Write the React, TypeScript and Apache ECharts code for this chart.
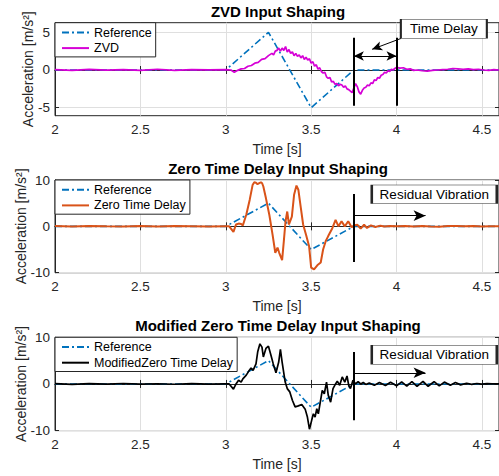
import React, { useEffect, useRef } from "react";
import * as echarts from "echarts";

// ---------- data ----------
const xTicks = [2, 2.5, 3, 3.5, 4, 4.5];
const topYTicks = [-5, 0, 5];
const lowYTicks = [-10, 0, 10];

const titles = [
  "ZVD Input Shaping",
  "Zero Time Delay Input Shaping",
  "Modified Zero Time Delay Input Shaping",
];
const seriesNames = ["ZVD", "Zero Time Delay", "ModifiedZero Time Delay"];

const refT = [2, 3, 3.25, 3.5, 3.75, 4.6];
const refV = [0, 0, 5, -5, 0, 0];

const zvdT = [2.0, 2.1, 2.2, 2.3, 2.4, 2.5, 2.6, 2.7, 2.8, 2.9, 3.0,
  3.03, 3.05, 3.07, 3.09, 3.11, 3.13, 3.15, 3.17, 3.19, 3.21, 3.23, 3.25, 3.27,
  3.28, 3.29, 3.30, 3.31, 3.32, 3.33, 3.34, 3.35, 3.36, 3.37, 3.38, 3.39, 3.40,
  3.41, 3.42, 3.43, 3.44, 3.45, 3.46, 3.47, 3.48, 3.49, 3.50, 3.51, 3.52, 3.53,
  3.54, 3.55, 3.56, 3.57, 3.58, 3.59, 3.60, 3.61, 3.62, 3.63, 3.64, 3.65, 3.66,
  3.67, 3.68, 3.69, 3.70, 3.71, 3.72, 3.73, 3.74, 3.75, 3.76, 3.77, 3.78, 3.79,
  3.80, 3.81, 3.82, 3.83, 3.84, 3.85, 3.86, 3.87, 3.88, 3.89, 3.90, 3.91, 3.92,
  3.93, 3.94, 3.95, 3.96, 3.97, 3.98, 3.99, 4.00,
  4.02, 4.04, 4.06, 4.08, 4.10, 4.12,
  4.15, 4.18, 4.21, 4.24, 4.27, 4.30, 4.33, 4.36, 4.39, 4.42, 4.45, 4.48, 4.51,
  4.54, 4.57, 4.60];
const zvdV = [0.05, -0.05, 0.08, -0.03, 0.06, -0.04, 0.1, -0.05, 0.05, 0.02, 0.05,
  0.0, -0.3, -0.05, 0.15, 0.2, 0.5, 0.6, 0.9, 1.0, 1.4, 1.5, 1.9, 2.2,
  2.0, 2.5, 2.6, 2.9, 2.5, 2.9, 2.6, 3.1, 2.4, 2.7, 2.2, 2.4, 1.9,
  2.2, 1.8, 2.0, 1.6, 1.9, 1.4, 1.7, 1.3, 1.5, 0.9, 1.1, 0.5, 0.7,
  0.1, 0.3, -0.2, -0.4, -0.3, -0.9, -1.1, -1.0, -1.6, -1.5, -1.9, -1.8, -2.1,
  -1.9, -2.0, -2.3, -2.1, -2.5, -2.6, -2.8, -3.0, -2.4, -1.8, -2.2, -2.9, -3.2,
  -2.7, -2.4, -2.3, -2.0, -2.1, -1.7, -1.8, -1.3, -1.4, -1.0, -1.1, -0.7, -0.6,
  -0.3, -0.4, -0.1, -0.2, 0.1, 0.0, 0.2, 0.35,
  0.25, 0.3, 0.1, 0.15, -0.05, 0.0,
  -0.1, -0.15, -0.05, 0.0, 0.05, 0.1, 0.2, 0.15, 0.1, 0.15, 0.05, 0.1, 0.0,
  -0.05, 0.05, 0.0];

const ztdT = [2.0, 2.1, 2.2, 2.3, 2.4, 2.5, 2.6, 2.7, 2.8, 2.9, 3.0,
  3.02, 3.045, 3.06, 3.075, 3.09, 3.10, 3.12, 3.14, 3.157, 3.167, 3.177, 3.186,
  3.196, 3.206, 3.213, 3.22, 3.235, 3.255, 3.274, 3.29, 3.303, 3.313, 3.33, 3.34,
  3.35, 3.36, 3.37, 3.387, 3.40, 3.414, 3.425, 3.44, 3.453, 3.47, 3.488, 3.50,
  3.517, 3.536, 3.556, 3.57, 3.585, 3.60, 3.624, 3.643, 3.66, 3.678, 3.697,
  3.717, 3.737, 3.75,
  3.77, 3.79, 3.81, 3.827, 3.85, 3.876, 3.905, 3.93, 3.96, 4.0,
  4.05, 4.1, 4.15, 4.2, 4.25, 4.3, 4.35, 4.4, 4.45, 4.5, 4.55, 4.6];
const ztdV = [0.05, -0.05, 0.1, 0, -0.05, 0.08, -0.03, 0.05, 0, -0.05, 0,
  0, -1.2, 0.4, 0.6, 0.5, 0.2, 2.5, 5.7, 8.9, 9.5, 9.4, 9.1,
  9.3, 9.5, 9.3, 8.6, 6.1, 2.5, -1.8, -5.7, -4.6, -5.7, -7.3, -3.2,
  1.1, 3.2, 0.4, 2.1, 6.8, 8.8, 7.9, 3.9, 0.4, -1.8, -4.3, -8.9,
  -9.3, -8.4, -7.8, -5.0, -3.2, -2.1, -0.4, 1.4, 0.0, 1.1, 0.0,
  1.1, -0.2, 0.2,
  0.35, -0.5, 0.35, -0.35, 0.2, -0.15, 0.15, -0.05, 0.1, 0.0,
  0.05, -0.05, 0.1, -0.05, -0.1, 0.05, 0.1, 0.0, 0.05, -0.05, 0.0, 0.0];

const mztdT = [2.0, 2.1, 2.2, 2.3, 2.4, 2.5, 2.6, 2.7, 2.8, 2.9, 3.0,
  3.02, 3.045, 3.06, 3.075, 3.09, 3.10, 3.12, 3.134, 3.148, 3.16, 3.177, 3.187,
  3.20, 3.212, 3.22, 3.235, 3.25, 3.265, 3.278, 3.294, 3.31, 3.32, 3.33, 3.348,
  3.36, 3.375, 3.39, 3.406, 3.425, 3.445, 3.465, 3.478, 3.49, 3.503, 3.513,
  3.523, 3.533, 3.542, 3.552, 3.565, 3.577, 3.59, 3.60, 3.614, 3.628, 3.643,
  3.653, 3.667, 3.682, 3.697,
  3.71, 3.72, 3.73, 3.745, 3.76, 3.775, 3.79, 3.805, 3.82, 3.84, 3.87, 3.90,
  3.935, 3.965, 4.0, 4.03, 4.06, 4.09, 4.12, 4.155, 4.185, 4.22, 4.25, 4.28,
  4.315, 4.345, 4.375, 4.41, 4.44, 4.47, 4.50, 4.53, 4.56, 4.6];
const mztdV = [0.05, -0.08, 0.06, -0.04, 0.1, -0.05, 0.04, -0.06, 0.08, -0.03, 0.0,
  0.0, -1.1, 0.0, 0.8, 0.4, 1.1, 1.9, 2.7, 3.4, 2.9, 4.3, 6.9,
  8.6, 7.9, 5.8, 7.6, 8.1, 6.1, 4.3, 2.4, 4.7, 7.4, 4.7, 0.4,
  -1.0, -1.7, -3.5, -4.9, -4.7, -4.4, -5.4, -7.1, -9.7, -7.8, -6.4,
  -7.1, -5.3, -6.4, -4.2, -1.4, -2.1, 0.4, -2.4, -3.9, -1.0, 0.0,
  0.6, -0.3, 1.5, 0.4,
  1.7, -0.3, -1.0, 0.8, 0.0, 0.5, 0.0, 0.3, -0.1, 0.2, -0.3, 0.3,
  -0.35, 0.35, -0.4, 0.45, -0.45, 0.5, -0.5, 0.55, -0.5, 0.5, -0.4, 0.4,
  -0.3, 0.3, -0.2, 0.15, -0.1, 0.1, -0.05, 0.05, 0.0, 0.0];

// annotation anchors (data coordinates)
const delayLines = [3.75, 4.0];
const residualStart = 3.75;
const residualArrowEnd = 4.17;

// ---------- styling ----------
const FONT = "'Liberation Sans', Arial, Helvetica, sans-serif";
const AX = "#262626";
const GRIDC = "#DFDFDF";
const REF_COLOR = "#0072BD";
const COLORS = ["#D600D6", "#D95319", "#000000"];

const grids = [
  { left: 55, top: 22.7, width: 446, height: 93 },
  { left: 55, top: 180, width: 446, height: 92.7 },
  { left: 55, top: 337.3, width: 446, height: 93.3 },
];
const yRanges = [
  [-6.06, 6.27],
  [-10, 10],
  [-10, 10],
];
const yTickSets = [topYTicks, lowYTicks, lowYTicks];
const yNameGaps = [20, 27, 27];

const pts = (t: number[], v: number[]) => t.map((x, i) => [x, v[i]]);
const onTicks = (ticks: number[]) => (v: number) =>
  ticks.some((t) => Math.abs(t - v) < 1e-6) ? String(v) : "";

function buildOption() {
  const xAxis: any[] = [];
  const yAxis: any[] = [];
  for (let i = 0; i < 3; i++) {
    xAxis.push({
      type: "value",
      gridIndex: i,
      min: 2,
      max: 4.6,
      interval: 0.5,
      axisLine: { show: true, lineStyle: { color: AX, width: 1 } },
      axisTick: { show: true, inside: true, length: 4, customValues: xTicks, lineStyle: { color: AX } },
      axisLabel: {
        customValues: xTicks,
        formatter: onTicks(xTicks),
        hideOverlap: false,
        fontSize: 13.5,
        color: AX,
        margin: 7,
        fontFamily: FONT,
      },
      splitLine: { show: true, lineStyle: { color: GRIDC, width: 1 } },
      name: "Time [s]",
      nameLocation: "middle",
      nameGap: 26,
      nameMoveOverlap: false,
      nameTextStyle: { fontSize: 14, color: AX, fontFamily: FONT },
    });
    yAxis.push({
      type: "value",
      gridIndex: i,
      min: yRanges[i][0],
      max: yRanges[i][1],
      axisLine: { show: true, lineStyle: { color: AX, width: 1 } },
      axisTick: { show: true, inside: true, length: 4, customValues: yTickSets[i], lineStyle: { color: AX } },
      axisLabel: {
        customValues: yTickSets[i],
        formatter: onTicks(yTickSets[i]),
        hideOverlap: false,
        fontSize: 13.5,
        color: AX,
        margin: 5,
        fontFamily: FONT,
      },
      splitLine: { show: true, lineStyle: { color: GRIDC, width: 1 } },
      name: "Acceleration [m/s²]",
      nameLocation: "middle",
      nameGap: yNameGaps[i],
      nameMoveOverlap: false,
      nameTextStyle: { fontSize: 14, color: AX, fontFamily: FONT },
    });
  }
  for (let i = 0; i < 3; i++) {
    xAxis.push({
      type: "value",
      gridIndex: i,
      position: "top",
      min: 2,
      max: 4.6,
      interval: 0.5,
      axisLine: { show: true, lineStyle: { color: AX, width: 1 } },
      axisTick: { show: true, inside: true, length: 4, customValues: xTicks, lineStyle: { color: AX } },
      axisLabel: { show: false },
      splitLine: { show: false },
    });
    yAxis.push({
      type: "value",
      gridIndex: i,
      position: "right",
      min: yRanges[i][0],
      max: yRanges[i][1],
      axisLine: { show: true, lineStyle: { color: AX, width: 1 } },
      axisTick: { show: true, inside: true, length: 4, customValues: yTickSets[i], lineStyle: { color: AX } },
      axisLabel: { show: false },
      splitLine: { show: false },
    });
  }

  const mainData = [pts(zvdT, zvdV), pts(ztdT, ztdV), pts(mztdT, mztdV)];

  const boxLabel = (text: string) => ({
    show: true,
    position: "inside",
    formatter: text,
    color: "#000",
    fontSize: 13.5,
    fontFamily: FONT,
  });
  const boxStyle = { color: "#ffffff", borderColor: AX, borderWidth: 1 };

  const markers: any[] = [
    {
      markLine: {
        silent: true,
        animation: false,
        symbol: ["none", "none"],
        symbolSize: [7, 10],
        label: { show: false },
        emphasis: { disabled: true },
        lineStyle: { color: "#000", width: 1, type: "solid" },
        data: [
          [{ coord: [delayLines[0], -4.74], lineStyle: { width: 2 } }, { coord: [delayLines[0], 4.28] }],
          [{ coord: [delayLines[1], -4.74], lineStyle: { width: 2 } }, { coord: [delayLines[1], 4.28] }],
          [{ coord: [delayLines[0], 1.85], symbol: "arrow" }, { coord: [delayLines[1], 1.85], symbol: "arrow" }],
          [{ coord: [4.028, 4.2], symbol: "none" }, { coord: [3.857, 2.74], symbol: "arrow" }],
        ],
      },
      markPoint: {
        silent: true,
        animation: false,
        symbol: "rect",
        symbolSize: [86, 19],
        itemStyle: boxStyle,
        label: boxLabel("Time Delay"),
        data: [{ coord: [4.277, 5.47] }],
      },
    },
    {
      markLine: {
        silent: true,
        animation: false,
        symbol: ["none", "none"],
        symbolSize: [8, 12],
        label: { show: false },
        emphasis: { disabled: true },
        lineStyle: { color: "#000", width: 1, type: "solid" },
        data: [
          [{ coord: [residualStart, -7.7], lineStyle: { width: 2 } }, { coord: [residualStart, 6.96] }],
          [{ coord: [residualStart, 2.3], symbol: "none" }, { coord: [residualArrowEnd, 2.3], symbol: "arrow" }],
        ],
      },
      markPoint: {
        silent: true,
        animation: false,
        symbol: "rect",
        symbolSize: [125, 18.5],
        itemStyle: boxStyle,
        label: boxLabel("Residual Vibration"),
        data: [{ coord: [4.221, 6.94] }],
      },
    },
    {
      markLine: {
        silent: true,
        animation: false,
        symbol: ["none", "none"],
        symbolSize: [8, 12],
        label: { show: false },
        emphasis: { disabled: true },
        lineStyle: { color: "#000", width: 1, type: "solid" },
        data: [
          [{ coord: [residualStart, -7.8], lineStyle: { width: 2 } }, { coord: [residualStart, 6.85] }],
          [{ coord: [residualStart, 2.4], symbol: "none" }, { coord: [residualArrowEnd, 2.4], symbol: "arrow" }],
        ],
      },
      markPoint: {
        silent: true,
        animation: false,
        symbol: "rect",
        symbolSize: [125, 19],
        itemStyle: boxStyle,
        label: boxLabel("Residual Vibration"),
        data: [{ coord: [4.221, 6.25] }],
      },
    },
  ];

  const series: any[] = [];
  for (let i = 0; i < 3; i++) {
    series.push({
      name: "Reference",
      type: "line",
      xAxisIndex: i,
      yAxisIndex: i,
      data: pts(refT, refV),
      symbol: "none",
      showSymbol: false,
      silent: true,
      lineStyle: { color: REF_COLOR, width: 1.6, type: [7, 3, 2, 3] },
      itemStyle: { color: REF_COLOR },
      z: 2,
    });
    series.push({
      name: seriesNames[i],
      type: "line",
      xAxisIndex: i,
      yAxisIndex: i,
      data: mainData[i],
      symbol: "none",
      showSymbol: false,
      silent: true,
      lineStyle: { color: COLORS[i], width: i === 1 ? 2 : 1.7 },
      itemStyle: { color: COLORS[i] },
      z: 3,
      ...markers[i],
    });
  }

  const legendTops = [22.7, 180, 337.3];
  const legend = legendTops.map((top, i) => ({
    data: ["Reference", seriesNames[i]],
    orient: "vertical",
    left: 55,
    top,
    itemWidth: 27,
    itemHeight: 10,
    itemGap: 0,
    padding: [2, 4, 1, 6],
    backgroundColor: "#ffffff",
    borderColor: AX,
    borderWidth: 1,
    selectedMode: false,
    itemStyle: { opacity: 0, borderWidth: 0 },
    textStyle: { fontSize: 12.5, color: "#000", fontFamily: FONT, lineHeight: 15.6 },
    z: 10,
  }));

  const titleYs = [11.7, 168, 325.5];
  const graphic = titles.map((t, i) => ({
    type: "text",
    x: 278,
    y: titleYs[i],
    silent: true,
    style: {
      text: t,
      fill: "#000",
      font: `bold 15px ${FONT}`,
      textAlign: "center",
      textVerticalAlign: "middle",
    },
  }));

  return {
    animation: false,
    backgroundColor: "#ffffff",
    grid: grids.map((g) => ({ ...g, show: true, borderColor: AX, borderWidth: 1, backgroundColor: "transparent" })),
    xAxis,
    yAxis,
    legend,
    series,
    graphic,
  };
}

export default function App() {
  const ref = useRef<HTMLDivElement | null>(null);
  useEffect(() => {
    if (!ref.current) return;
    const chart = echarts.init(ref.current, undefined, { renderer: "svg" });
    chart.setOption(buildOption() as any);
    return () => chart.dispose();
  }, []);
  return (
    <div
      ref={ref}
      style={{ position: "fixed", left: 0, top: 0, width: 499, height: 476, background: "#fff" }}
    />
  );
}
